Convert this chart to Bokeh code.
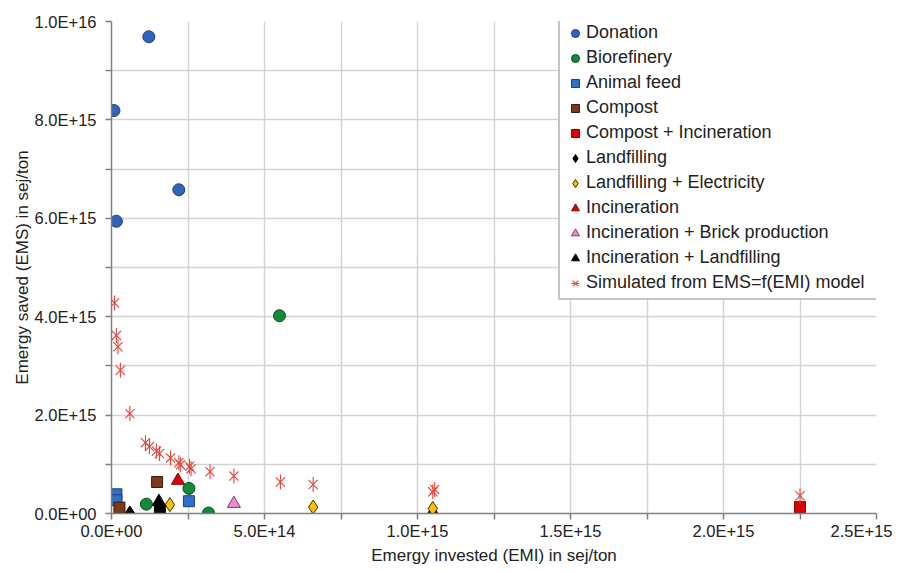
import numpy as np
from bokeh.plotting import figure
from bokeh.models import FixedTicker, Legend, LegendItem, Range1d
from bokeh.embed import file_html
from bokeh.resources import INLINE

# ---- data (sej/ton) ----
donation_x = [1.22e14, 0.08e14, 2.20e14, 0.16e14]
donation_y = [9.69e15, 8.19e15, 6.58e15, 5.94e15]

biorefinery_x = [5.49e14, 1.14e14, 2.53e14, 3.17e14]
biorefinery_y = [4.02e15, 0.19e15, 0.51e15, 0.01e15]

animal_feed_x = [0.16e14, 0.16e14, 2.53e14]
animal_feed_y = [0.39e15, 0.27e15, 0.25e15]

compost_x = [1.49e14, 0.26e14]
compost_y = [0.64e15, 0.12e15]

compost_incin_x = [2.25e15]
compost_incin_y = [0.13e15]

landfilling_x = [0.60e14, 1.05e15]
landfilling_y = [0.01e15, 0.02e15]

landfill_elec_x = [1.91e14, 6.59e14, 1.05e15]
landfill_elec_y = [0.18e15, 0.13e15, 0.10e15]

incineration_x = [2.17e14]
incineration_y = [0.67e15]

incin_brick_x = [4.00e14]
incin_brick_y = [0.20e15]

incin_landfill_x = [1.55e14]
incin_landfill_y = [0.24e15]

unlabelled_square_x = [1.58e14]
unlabelled_square_y = [0.08e15]

simulated_x = [0.10e14, 0.16e14, 0.21e14, 0.29e14, 0.60e14, 1.11e14, 1.24e14, 1.47e14,
               1.57e14, 1.93e14, 2.20e14, 2.25e14, 2.55e14, 2.60e14, 3.22e14, 4.00e14,
               5.52e14, 6.59e14, 1.05e15, 1.056e15, 2.25e15]
simulated_y = [4.28e15, 3.62e15, 3.39e15, 2.91e15, 2.03e15, 1.44e15, 1.36e15, 1.27e15,
               1.22e15, 1.13e15, 1.03e15, 0.99e15, 0.96e15, 0.91e15, 0.85e15, 0.76e15,
               0.64e15, 0.59e15, 0.44e15, 0.49e15, 0.36e15]

x_major = [0, 5e14, 1e15, 1.5e15, 2e15, 2.5e15]
x_minor = [2.5e14, 7.5e14, 1.25e15, 1.75e15, 2.25e15]
x_labels = ["0.0E+00", "5.0E+14", "1.0E+15", "1.5E+15", "2.0E+15", "2.5E+15"]
y_major = [0, 2e15, 4e15, 6e15, 8e15, 1e16]
y_minor = [1e15, 3e15, 5e15, 7e15, 9e15]
y_labels = ["0.0E+00", "2.0E+15", "4.0E+15", "6.0E+15", "8.0E+15", "1.0E+16"]

FONT = "Liberation Sans"

p = figure(frame_width=765, frame_height=492, min_border_left=111, min_border_top=21,
           min_border_right=16, min_border_bottom=20,
           x_range=Range1d(0, 2.5e15), y_range=Range1d(0, 1e16),
           output_backend="svg", toolbar_location=None, background_fill_color="white",
           border_fill_color="white")
p.outline_line_color = None

p.xaxis.ticker = FixedTicker(ticks=x_major, minor_ticks=x_minor)
p.yaxis.ticker = FixedTicker(ticks=y_major, minor_ticks=y_minor)
p.xaxis.major_label_overrides = {float(v): s for v, s in zip(x_major, x_labels)}
p.yaxis.major_label_overrides = {float(v): s for v, s in zip(y_major, y_labels)}

for ax in (p.xaxis, p.yaxis):
    ax.axis_line_color = "#808080"
    ax.axis_line_width = 1.5
    ax.major_tick_line_color = "#808080"
    ax.minor_tick_line_color = "#808080"
    ax.major_tick_line_width = 1.5
    ax.minor_tick_line_width = 1.5
    ax.major_tick_in = 0
    ax.major_tick_out = 6
    ax.minor_tick_in = 0
    ax.minor_tick_out = 6
    ax.major_label_text_font = FONT
    ax.major_label_text_font_size = "16.5px"
    ax.major_label_text_color = "#222222"
    ax.axis_label_text_font = FONT
    ax.axis_label_text_font_size = "17px"
    ax.axis_label_text_font_style = "normal"
    ax.axis_label_text_color = "#222222"

p.xaxis.axis_label = "Emergy invested (EMI) in sej/ton"
p.yaxis.axis_label = "Emergy saved (EMS) in sej/ton"
p.xaxis.major_label_standoff = 2
p.xaxis.axis_label_standoff = 3
p.yaxis.major_label_standoff = 9
p.yaxis.axis_label_standoff = 0

for g in (p.xgrid, p.ygrid):
    g.grid_line_color = "#d4d4d4"
    g.grid_line_width = 1.5
    g.minor_grid_line_color = "#d4d4d4"
    g.minor_grid_line_width = 1.5

S = 12
r_don = p.scatter(donation_x, donation_y, marker="circle", size=S, fill_color="#2f63bd", line_color="#1d3e7a")
r_bio = p.scatter(biorefinery_x, biorefinery_y, marker="circle", size=S, fill_color="#138a3a", line_color="#0b4d20")
r_af = p.scatter(animal_feed_x, animal_feed_y, marker="square", size=S - 1, fill_color="#2f6fcc", line_color="#1d3e7a")
r_comp = p.scatter(compost_x, compost_y, marker="square", size=S - 1, fill_color="#7b3a1a", line_color="#3a1a08")
r_ci = p.scatter(compost_incin_x, compost_incin_y, marker="square", size=S - 1, fill_color="#e00000", line_color="#8a0000")
r_sq = p.scatter(unlabelled_square_x, unlabelled_square_y, marker="square", size=S - 1, fill_color="black", line_color="black")
r_lf = p.scatter(landfilling_x, landfilling_y, marker="diamond", size=S + 2, fill_color="black", line_color="black")
r_le = p.scatter(landfill_elec_x, landfill_elec_y, marker="diamond", size=S + 2, fill_color="#ffc000", line_color="#3a2a00")
r_inc = p.scatter(incineration_x, incineration_y, marker="triangle", size=S + 1, fill_color="#e00000", line_color="#8a0000")
r_ib = p.scatter(incin_brick_x, incin_brick_y, marker="triangle", size=S + 1, fill_color="#f08ad2", line_color="#7a3a6a")
r_il = p.scatter(incin_landfill_x, incin_landfill_y, marker="triangle", size=S + 1, fill_color="black", line_color="black")
r_sim1 = p.scatter(simulated_x, simulated_y, marker="x", size=13, line_color="#e8453c", line_width=1.1)
r_sim2 = p.scatter(simulated_x, simulated_y, marker="dash", angle=np.pi / 2, size=15, line_color="#e8453c", line_width=1.1)

items = [
    LegendItem(label="Donation", renderers=[r_don]),
    LegendItem(label="Biorefinery", renderers=[r_bio]),
    LegendItem(label="Animal feed", renderers=[r_af]),
    LegendItem(label="Compost", renderers=[r_comp]),
    LegendItem(label="Compost + Incineration", renderers=[r_ci]),
    LegendItem(label="Landfilling", renderers=[r_lf]),
    LegendItem(label="Landfilling + Electricity", renderers=[r_le]),
    LegendItem(label="Incineration", renderers=[r_inc]),
    LegendItem(label="Incineration + Brick production", renderers=[r_ib]),
    LegendItem(label="Incineration + Landfilling", renderers=[r_il]),
    LegendItem(label="Simulated from EMS=f(EMI) model", renderers=[r_sim1, r_sim2]),
]
legend = Legend(items=items, location=(447, 213), label_text_font=FONT,
                label_text_font_size="18px", label_text_color="#222222",
                glyph_width=20, glyph_height=20, label_standoff=1, spacing=4,
                label_height=21, label_width=298,
                padding=5, margin=0, border_line_color="#8c8c8c", border_line_width=2,
                background_fill_color="white", background_fill_alpha=1.0)
p.add_layout(legend, "center")

open("out.html", "w").write(file_html(p, INLINE))
